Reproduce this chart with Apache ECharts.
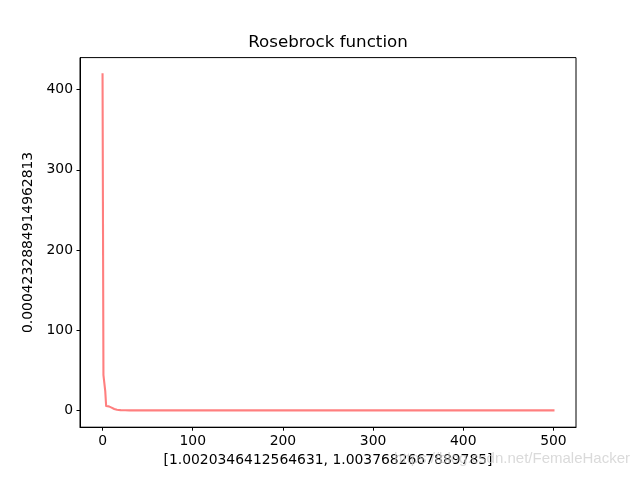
<!DOCTYPE html>
<html>
<head>
<meta charset="utf-8">
<script src="https://cdn.jsdelivr.net/npm/echarts@6/dist/echarts.min.js"></script>
<style>html,body{margin:0;padding:0;background:#fff}#c{width:640px;height:480px}</style>
</head>
<body>
<div id="c"></div>
<script>
const iterations = [0,1,2,3,4,5,6,7,8,9,10,11,12,13,14,15,16,17,18,20,25,30,50,100,200,300,400,500];
const values = [419,44,42,24,5.5,5.3,5.2,5.0,4.8,3.8,3.5,3.0,2.2,1.8,1.4,1.1,0.9,0.7,0.5,0.3,0.1,0.05,0.01,0.002,0.001,0.0007,0.0005,0.00042];
const xTicks = [0,100,200,300,400,500];
const yTicks = [0,100,200,300,400];
const titleText = 'Rosebrock function';
const xName = '[1.0020346412564631, 1.0037682667889785]';
const yName = '0.0004232884914962813';
const watermark = 'https://blog.csdn.net/FemaleHacker';

const font = 'DejaVu Sans';
const chart = echarts.init(document.getElementById('c'));
const data = iterations.map((x, i) => [x, values[i]]);
const ymax = Math.max(...values), ymin = Math.min(...values);
const yr = ymax - ymin;
chart.setOption({
  animation: false,
  grid: {left: 80, right: 64, top: 57.6, bottom: 52.8, show: true, borderColor: '#000', borderWidth: 1},
  graphic: [
    {type: 'text', x: 328, y: 42.5, style: {text: titleText, fontFamily: font, fontSize: 16.7, fill: '#000', align: 'center', verticalAlign: 'middle'}},
    {type: 'text', x: 630, y: 459, z: 100, style: {text: watermark, fontFamily: 'Liberation Sans', fontSize: 15, fill: 'rgba(205,205,205,0.75)', align: 'right', verticalAlign: 'middle'}}
  ],
  xAxis: {
    type: 'value', min: -25, max: 525,
    name: xName, nameLocation: 'middle', nameGap: 26,
    nameTextStyle: {fontFamily: font, fontSize: 13.9, color: '#000'},
    axisLine: {show: true, onZero: false, lineStyle: {color: '#000', width: 1}},
    axisTick: {show: true, length: 3.5, inside: false, customValues: xTicks, lineStyle: {color: '#000'}},
    axisLabel: {customValues: xTicks, margin: 7, fontFamily: font, fontSize: 13.9, color: '#000'},
    splitLine: {show: false}
  },
  yAxis: {
    type: 'value', min: ymin - 0.05 * yr, max: ymax + 0.05 * yr,
    name: yName, nameLocation: 'middle', nameGap: 41, nameRotate: 90,
    nameTextStyle: {fontFamily: font, fontSize: 13.9, color: '#000'},
    axisLine: {show: true, onZero: false, lineStyle: {color: '#000', width: 1}},
    axisTick: {show: true, length: 3.5, inside: false, customValues: yTicks, lineStyle: {color: '#000'}},
    axisLabel: {customValues: yTicks, margin: 7, fontFamily: font, fontSize: 13.9, color: '#000'},
    splitLine: {show: false}
  },
  series: [{
    type: 'line', data: data, showSymbol: false, symbol: 'none',
    lineStyle: {color: 'rgba(255,0,0,0.5)', width: 2.1, cap: 'square', join: 'round'}
  }]
});
</script>
</body>
</html>
